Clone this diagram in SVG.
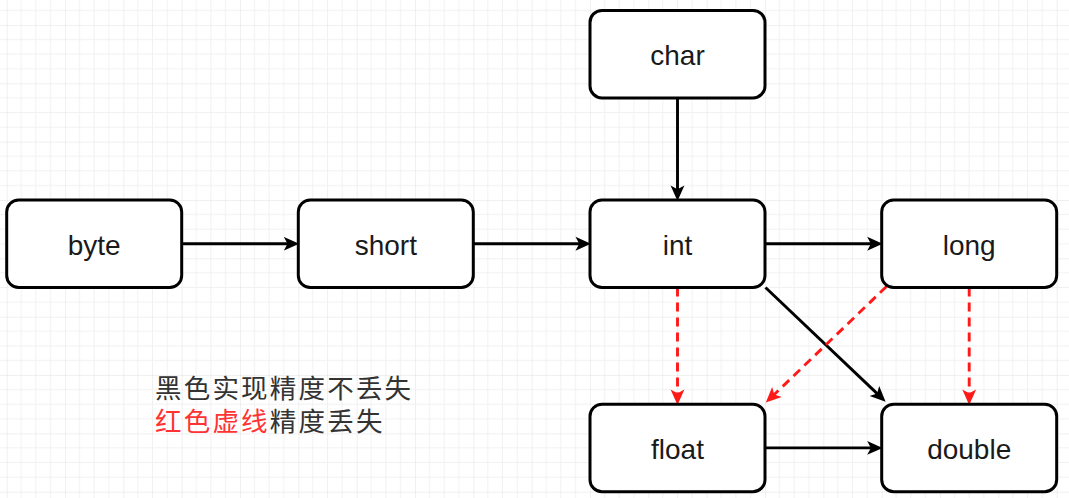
<svg xmlns="http://www.w3.org/2000/svg" width="1069" height="498" viewBox="0 0 1069 498">
<style>
.node rect{fill:#ffffff;stroke:#000000;stroke-width:3}
.node text{font-family:"Liberation Sans",Arial,sans-serif;font-size:28px;fill:#1a1a1a;text-anchor:middle}
.blk{stroke:#000000;stroke-width:2.9;fill:none}
.red{stroke:#ff1a1a;stroke-width:2.9;fill:none;stroke-dasharray:9 6}
.note{font-family:"Noto Sans CJK SC","Noto Sans CJK JP",sans-serif;font-size:26.5px;fill:#333333;letter-spacing:2.2px}
</style>
<defs>
<pattern id="grid" patternUnits="userSpaceOnUse" x="6.667" y="25" width="58.333" height="58.333">
<path d="M14.583 0V58.333M29.167 0V58.333M43.75 0V58.333M0 14.583H58.333M0 29.167H58.333M0 43.75H58.333" stroke="#f1f1f1" stroke-width="1" fill="none"/>
<path d="M0 0V58.333M0 0H58.333" stroke="#e2e2e2" stroke-width="1" fill="none"/>
</pattern>
<marker id="ab" markerUnits="userSpaceOnUse" markerWidth="16" markerHeight="16" viewBox="0 0 15 14" refX="8" refY="7" orient="auto">
<path d="M0 0.5L14.5 7L0 13.5L3.5 7Z" fill="#000000"/>
</marker>
<marker id="ar" markerUnits="userSpaceOnUse" markerWidth="16" markerHeight="16" viewBox="0 0 15 14" refX="8" refY="7" orient="auto">
<path d="M0 0.5L14.5 7L0 13.5L3.5 7Z" fill="#ff1a1a"/>
</marker>
</defs>
<rect width="1069" height="498" fill="#ffffff"/>
<rect width="1069" height="498" fill="url(#grid)"/>

<g id="connectors">
<path class="blk" d="M181.7 243.75H292.3" marker-end="url(#ab)"/>
<path class="blk" d="M473.3 243.75H584" marker-end="url(#ab)"/>
<path class="blk" d="M765 243.75H875.7" marker-end="url(#ab)"/>
<path class="blk" d="M677.5 97.9V194" marker-end="url(#ab)"/>
<path class="blk" d="M765.5 287.5L880.6 396.9" marker-end="url(#ab)"/>
<path class="blk" d="M765 447.9H875.7" marker-end="url(#ab)"/>
<path class="red" d="M677.5 287.5V398" marker-end="url(#ar)"/>
<path class="red" d="M969.2 287.5V398" marker-end="url(#ar)"/>
<path class="red" d="M886.5 286.5L770.8 397.8" marker-end="url(#ar)"/>
</g>

<g id="node-byte" class="node"><rect x="6.7" y="200" width="175" height="87.5" rx="12"/><text x="94.2" y="254.7">byte</text></g>
<g id="node-short" class="node"><rect x="298.3" y="200" width="175" height="87.5" rx="12"/><text x="385.8" y="254.7">short</text></g>
<g id="node-int" class="node"><rect x="590" y="200" width="175" height="87.5" rx="12"/><text x="677.5" y="254.7">int</text></g>
<g id="node-long" class="node"><rect x="881.7" y="200" width="175" height="87.5" rx="12"/><text x="969.2" y="254.7">long</text></g>
<g id="node-char" class="node"><rect x="590" y="10.4" width="175" height="87.5" rx="12"/><text x="677.5" y="65.1">char</text></g>
<g id="node-float" class="node"><rect x="590" y="404.2" width="175" height="87.5" rx="12"/><text x="677.5" y="458.9">float</text></g>
<g id="node-double" class="node"><rect x="881.7" y="404.2" width="175" height="87.5" rx="12"/><text x="969.2" y="458.9">double</text></g>

<g id="note">
<text class="note" x="155" y="398">黑色实现精度不丢失</text>
<text class="note" x="155" y="431"><tspan fill="#ff3333">红色虚线</tspan>精度丢失</text>
</g>
</svg>
